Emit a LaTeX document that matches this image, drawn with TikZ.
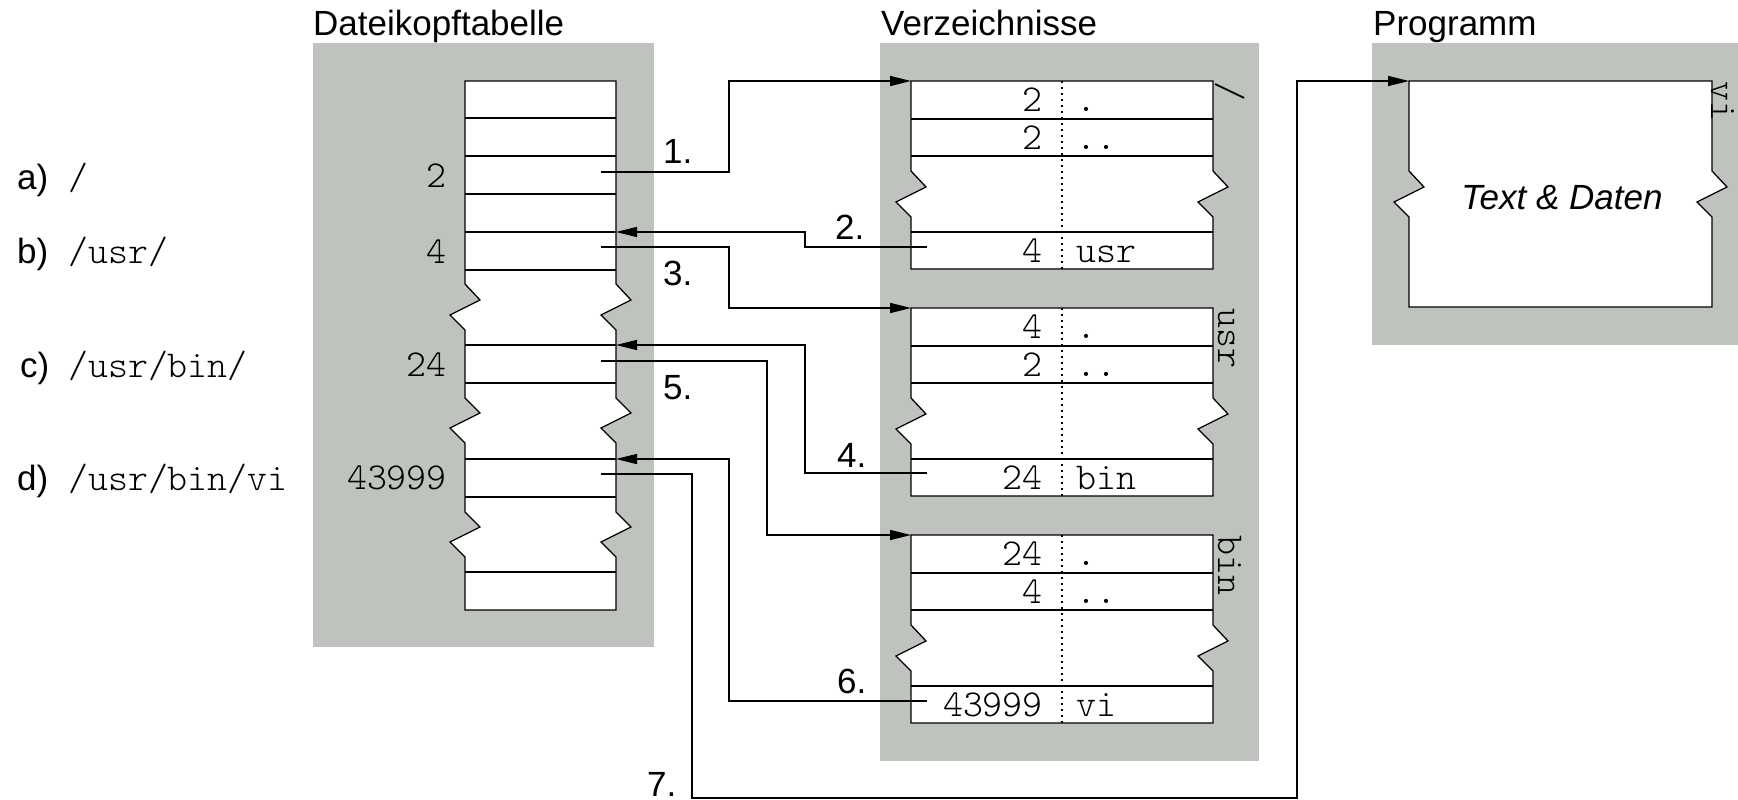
\documentclass[tikz,border=0pt]{standalone}
\usepackage{fontspec}
\setmainfont{Liberation Sans}
\setmonofont{Latin Modern Mono Light}
\usetikzlibrary{arrows.meta}
\definecolor{panelgray}{RGB}{190,195,189}
\tikzset{
  panel/.style={fill=panelgray, draw=none},
  tbl/.style={draw=black, fill=white, line width=1.3pt, line join=miter},
  rowline/.style={draw=black, line width=1.3pt},
  divider/.style={draw=black, line width=1.7pt, dash pattern=on 1.7pt off 4.3pt},
  conn/.style={draw=black, line width=1.3pt},
  arr/.style={conn, -{Triangle[length=21pt,width=10pt]}},
  sans/.style={font=\fontsize{35}{40}\selectfont, inner sep=0pt},
  mono/.style={font=\fontsize{38}{40}\selectfont\ttfamily, inner sep=0pt},
  titletext/.style={sans, anchor=base west},
  steplabel/.style={sans, anchor=base west},
  numtext/.style={mono, anchor=base east},
  nametext/.style={mono, anchor=base west},
  sidelabel/.style={mono, anchor=base west, rotate=-90},
}
\newcommand\dirtable[8]{%
  \begin{scope}[shift={(0,#1)}]
    \draw[tbl] (911,81) -- (1213,81) -- (1213,171) -- (1228,187) -- (1198,202) -- (1213,217)
      -- (1213,269) -- (911,269) -- (911,217) -- (896,202) -- (926,187) -- (911,171) -- cycle;
    \draw[rowline] (911,119) -- (1213,119);
    \draw[rowline] (911,156) -- (1213,156);
    \draw[rowline] (911,232) -- (1213,232);
    \draw[divider] (1062,81) -- (1062,269);
    \node[numtext] (#2n1) at (1043,111) {#3};
    \node[nametext] (#2m1) at (1076,111) {.};
    \node[numtext] (#2n2) at (1043,149) {#4};
    \node[nametext] (#2m2) at (1076,149) {..};
    \node[numtext] (#2n3) at (1043,262) {#5};
    \node[nametext] (#2m3) at (1076,262) {#6};
    \node[sidelabel] (#2side) at (1218,81) {#7};
    \coordinate (#2top) at (911,81);
    \coordinate (#2out) at (927,#8);
  \end{scope}}
\begin{document}
\begin{tikzpicture}[x=1pt,y=-1pt]
\path[use as bounding box] (0,0) rectangle (1738,800);
% panels
\fill[panel] (313,43) rectangle (654,647);
\fill[panel] (880,43) rectangle (1259,761);
\fill[panel] (1372,43) rectangle (1738,345);
% titles
\node[titletext] (t1) at (313,36) {Dateikopftabelle};
\node[titletext] (t2) at (881,36) {Verzeichnisse};
\node[titletext] (t3) at (1373,36) {Programm};
% inode table
\draw[tbl] (465,81) -- (616,81) -- (616,284) -- (631,300) -- (601,315) -- (616,330)
  -- (616,398) -- (631,413) -- (601,428) -- (616,443)
  -- (616,512) -- (631,527) -- (601,542) -- (616,557)
  -- (616,610) -- (465,610)
  -- (465,557) -- (450,542) -- (480,527) -- (465,512)
  -- (465,443) -- (450,428) -- (480,413) -- (465,398)
  -- (465,330) -- (450,315) -- (480,300) -- (465,284) -- cycle;
\foreach \yy in {118,156,194,232,270,345,383,459,497,572}
  \draw[rowline] (465,\yy) -- (616,\yy);
\node[numtext] (i2) at (447,187) {2};
\node[numtext] (i4) at (447,263) {4};
\node[numtext] (i24) at (447,376) {24};
\node[numtext] (i43999) at (447,489) {43999};
\coordinate (o2) at (601,172);
\coordinate (o4) at (601,247);
\coordinate (o24) at (601,361);
\coordinate (o43999) at (601,474);
\coordinate (in4) at (616,232);
\coordinate (in24) at (616,345);
\coordinate (in43999) at (616,459);
% path labels
\node[sans, anchor=base west] (la) at (17,189) {a)};
\node[mono, anchor=base west] (pa) at (68,189) {/};
\node[sans, anchor=base west] (lb) at (17,263) {b)};
\node[mono, anchor=base west] (pb) at (68,263) {/usr/};
\node[sans, anchor=base west] (lc) at (20,377) {c)};
\node[mono, anchor=base west] (pc) at (68,377) {/usr/bin/};
\node[sans, anchor=base west] (ld) at (17,490) {d)};
\node[mono, anchor=base west] (pd) at (68,490) {/usr/bin/vi};
% directories
\dirtable{0}{root}{2}{2}{4}{usr}{/}{247}
\dirtable{227}{usr}{4}{2}{24}{bin}{usr}{246}
\dirtable{454}{bin}{24}{4}{43999}{vi}{bin}{247}
% program
\draw[tbl] (1409,81) -- (1712,81) -- (1712,171) -- (1727,187) -- (1697,202) -- (1712,217)
  -- (1712,307) -- (1409,307) -- (1409,217) -- (1394,202) -- (1424,187) -- (1409,171) -- cycle;
\coordinate (progtop) at (1409,81);
\node[sans, font=\fontsize{35}{40}\selectfont\itshape] (td) at (1562,198) {Text \& Daten};
\node[sidelabel] (viside) at (1711,81) {vi};
% connectors
\draw[arr] (o2) -| (729,81) -- (roottop);
\draw[arr] (rootout) -- (805,247) |- (in4);
\draw[arr] (o4) -| (729,308) -- (usrtop);
\draw[arr] (usrout) -- (805,473) |- (in24);
\draw[arr] (o24) -| (767,535) -- (bintop);
\draw[arr] (binout) -- (729,701) |- (in43999);
\draw[arr] (o43999) -| (692,798) -| (1297,81) -- (progtop);
% step labels
\node[steplabel] (s1) at (663,163) {1.};
\node[steplabel] (s2) at (835,239) {2.};
\node[steplabel] (s3) at (663,285) {3.};
\node[steplabel] (s4) at (837,467) {4.};
\node[steplabel] (s5) at (663,399) {5.};
\node[steplabel] (s6) at (837,693) {6.};
\node[steplabel] (s7) at (647,796) {7.};
\end{tikzpicture}
\end{document}
